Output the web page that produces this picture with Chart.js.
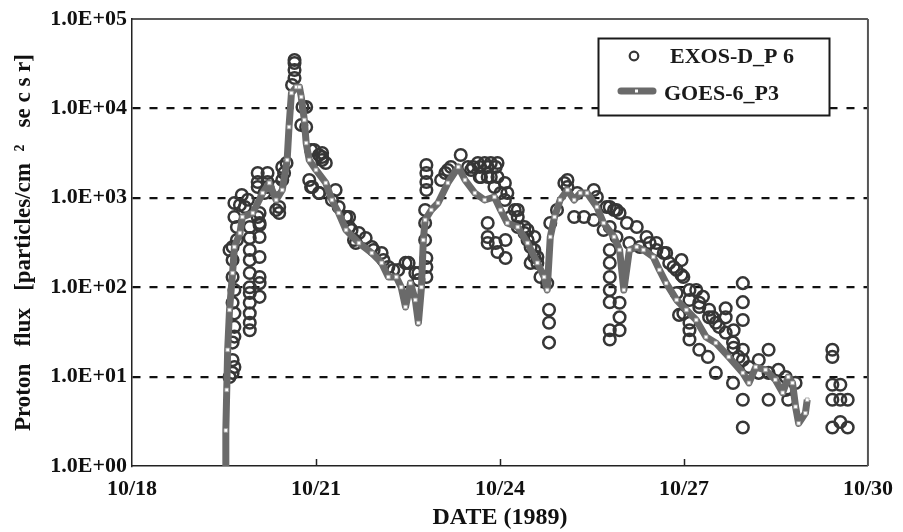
<!DOCTYPE html>
<html>
<head>
<meta charset="utf-8">
<script src="https://cdn.jsdelivr.net/npm/chart.js@4.4.0/dist/chart.umd.min.js"></script>
<style>
html,body{margin:0;padding:0;background:#fff;}
#wrap{width:903px;height:532px;}
</style>
</head>
<body>
<div id="wrap"><canvas id="c" width="903" height="532"></canvas></div>
<script>
// ---- tick labels ----
const xTickDays = [18, 21, 24, 27, 30];
const xTickLabels = ['10/18', '10/21', '10/24', '10/27', '10/30'];
const yTickValues = [1, 10, 100, 1000, 10000, 100000];
const yTickLabels = ['1.0E+00', '1.0E+01', '1.0E+02', '1.0E+03', '1.0E+04', '1.0E+05'];

// ---- GOES-6 P3 (day of October 1989, flux) ----
const goesDays = [19.53,19.53,19.545,19.56,19.59,19.64,19.67,19.76,19.80,19.97,
  20.13,20.24,20.35,20.45,20.53,20.56,20.60,20.68,20.73,20.76,
  20.81,20.84,20.89,21.00,21.16,21.26,21.37,21.49,21.70,21.91,
  22.07,22.18,22.31,22.39,22.46,22.54,22.62,22.67,22.72,22.75,
  22.78,22.88,22.99,23.15,23.32,23.43,23.59,23.75,23.91,24.01,
  24.12,24.29,24.45,24.61,24.72,24.77,24.82,24.89,24.98,25.10,
  25.21,25.31,25.42,25.58,25.69,25.86,25.95,26.02,26.11,26.23,
  26.34,26.50,26.60,26.71,26.88,27.04,27.20,27.36,27.52,27.73,
  27.96,28.06,28.17,28.33,28.49,28.61,28.70,28.77,28.82,28.87,
  28.98,29.01];
const goesFlux = [0.8,2.5,7.1,19.9,55.6,144,282,404,610,676,
  1132,1466,945,1222,2647,6190,14860,17340,17340,13420,
  7420,4100,2647,2047,1466,945,676,436,312,241,
  187,130,130,100,60,111,72,39.8,100,337,
  565,731,875,1466,2212,1582,1132,945,1021,731,
  522,471,312,187,130,93,365,610,945,1222,
  945,1132,1132,789,522,365,261,93,261,282,
  261,218,156,111,72,55.6,43,27.7,23.8,16.6,
  11.0,8.5,12.8,11.9,9.2,6.6,9.9,8.5,4.6,3.0,
  3.9,5.5];

// ---- EXOS-D P6 (day of October 1989, flux) ----
const exosDays = [
  19.64,19.64,19.64,19.59,19.64,19.67,19.67,19.67,19.64,19.64,19.67,19.64,19.59,19.67,
  19.92,19.92,19.92,19.92,19.92,19.92,19.92,19.92,19.92,19.92,
  20.08,20.08,20.08,20.08,20.08,20.08,20.08,
  19.79,19.76,20.05,20.21,20.05,20.21,20.45,20.52,20.35,20.40,19.89,
  20.65,20.65,20.65,20.65,20.61,
  20.78,20.76,20.97,21.05,21.10,20.92,21.05,21.16,21.32,21.49,21.54,21.58,21.65,21.81,21.94,22.10,22.26,22.51,22.67,
  22.80,22.80,22.80,22.80,22.78,22.78,22.80,22.80,22.80,22.78,
  23.11,23.36,23.53,23.56,23.67,23.80,23.93,23.67,23.80,23.96,24.08,24.12,24.24,23.80,23.80,23.80,23.93,23.96,24.09,24.09,24.29,24.45,24.45,24.56,24.61,24.50,24.50,24.77,
  24.80,24.80,24.80,
  25.10,25.10,25.26,25.53,25.53,25.79,25.86,25.95,25.79,26.07,26.23,26.39,26.55,26.67,26.71,26.83,26.96,26.96,
  25.79,25.79,25.79,25.79,25.79,25.79,25.79,
  25.95,25.95,25.95,
  27.09,27.25,27.41,26.92,26.99,27.09,27.09,27.09,27.25,27.39,27.52,27.68,27.68,27.81,27.81,27.52,27.80,27.96,27.96,27.96,27.96,27.96,27.96,27.96,28.22,28.38,28.38,28.66,28.70,28.82,
  29.42,29.42,29.42,29.55,29.42,29.55,29.67,29.42,29.55,29.67,
  19.67,19.67,19.71,19.71,19.84,19.92,20.05,20.08,20.05,20.21,20.16,20.35,20.40,20.48,20.45,
  20.84,20.84,20.92,20.97,21.10,21.10,20.89,20.94,21.05,21.26,21.37,21.49,21.54,21.62,
  21.70,21.91,22.07,22.18,22.34,22.46,22.62,22.67,
  23.04,23.15,23.20,23.48,23.64,23.75,23.85,23.96,23.69,23.85,23.91,24.01,24.08,24.17,24.29,24.40,24.56,24.61,
  24.29,24.40,24.56,24.66,24.82,24.93,25.05,25.21,25.37,25.58,25.74,25.90,25.69,25.90,26.11,26.28,26.44,26.55,26.76,26.88,26.99,27.20,27.31,27.47,
  26.88,27.09,27.25,27.41,27.57,27.68,27.80,27.89,28.06,28.22,28.38,28.54,28.66];
const exosFlux = [
  282,201,130,261,67,51,36,28,24,15.3,12.8,11.0,9.9,93,
  355,261,201,144,100,86,67,51,40,33,
  676,497,365,218,130,111,78,
  1075,830,1893,1893,1503,1503,2212,2450,731,676,950,
  34800,32200,26900,21900,18300,
  10370,6520,3425,3010,2860,1321,1132,2450,1222,610,610,436,312,355,261,201,156,187,144,
  2330,1893,1503,1222,731,522,212,168,130,337,
  1893,3010,2047,2212,2212,2212,2212,1709,1709,1709,1466,1132,731,522,365,312,312,248,212,337,610,436,337,365,218,187,282,111,
  56,40,24,
  1582,1321,1132,1222,565,789,731,676,471,522,471,365,312,241,241,168,201,137,
  261,187,130,93,68,33,26,
  67,46,33,
  93,67,56,49,51,40,33,26,20,16.6,40,58,46,33,21,11.0,8.5,111,68,43,20,15.3,5.5,2.7,11.0,20,5.5,7.1,5.5,8.5,
  20,16.6,8.1,8.1,5.5,5.5,5.5,2.7,3.1,2.7,
  875,610,471,337,789,471,610,522,1321,1321,1132,1321,789,1893,1582,
  10370,6190,3425,2647,3170,2647,1582,1321,1132,945,789,610,471,337,
  404,282,241,168,156,187,144,120,
  1582,2047,2212,2212,2450,2450,2450,2450,1709,1709,1321,1132,945,610,471,404,218,187,
  731,471,261,130,522,731,1466,610,610,1021,789,731,436,365,312,282,312,261,187,156,130,93,78,46,
  86,72,60,46,36,31,24,16.6,12.8,15.3,11.0,11.9,9.9];

const seriesLabels = ['GOES-6_P3', 'EXOS-D_P 6'];

const FONT = "'Liberation Serif', 'DejaVu Serif', serif";
const goesColor = '#6a6a6a';
const exosColor = '#363636';

const goesData = goesDays.map((d, i) => ({x: d, y: goesFlux[i]}));
const exosData = exosDays.map((d, i) => ({x: d, y: exosFlux[i]}));

const framePlugin = {
  id: 'frame',
  beforeDatasetsDraw(chart) {
    const {ctx, chartArea: a} = chart;
    const xs = chart.scales.x;
    ctx.save();
    ctx.strokeStyle = '#222';
    ctx.lineWidth = 1.5;
    xs.ticks.forEach(t => {
      if (t.value <= xs.min || t.value >= xs.max) return;
      const px = Math.round(xs.getPixelForValue(t.value)) + 0.5;
      ctx.beginPath();
      ctx.moveTo(px, a.bottom);
      ctx.lineTo(px, a.bottom - 7);
      ctx.stroke();
    });
    ctx.restore();
  },
  afterDraw(chart) {
    const {ctx, chartArea: a} = chart;
    ctx.save();
    ctx.strokeStyle = '#222';
    ctx.lineWidth = 1.5;
    ctx.beginPath();
    ctx.moveTo(a.left, a.top);
    ctx.lineTo(a.right, a.top);
    ctx.stroke();
    ctx.strokeStyle = '#555';
    ctx.lineWidth = 2;
    ctx.beginPath();
    ctx.moveTo(a.right, a.top);
    ctx.lineTo(a.right, a.bottom);
    ctx.stroke();

    // legend box
    const bx = 598.5, by = 38.5, bw = 231, bh = 77;
    ctx.fillStyle = '#fff';
    ctx.fillRect(bx, by, bw, bh);
    ctx.strokeStyle = '#1a1a1a';
    ctx.lineWidth = 2;
    ctx.strokeRect(bx, by, bw, bh);

    const ds = chart.data.datasets;
    ctx.font = 'bold 22px ' + FONT;
    ctx.fillStyle = '#1a1a1a';
    ctx.textBaseline = 'middle';
    ctx.textAlign = 'left';
    // EXOS item
    ctx.strokeStyle = exosColor;
    ctx.lineWidth = 2.2;
    ctx.beginPath();
    ctx.arc(634, 56, 4.3, 0, Math.PI * 2);
    ctx.stroke();
    ctx.fillText(ds[1].label, 670, 57);
    // GOES item
    ctx.strokeStyle = goesColor;
    ctx.lineWidth = 7;
    ctx.lineCap = 'round';
    ctx.beginPath();
    ctx.moveTo(621, 91);
    ctx.lineTo(653, 91);
    ctx.stroke();
    ctx.fillStyle = '#fff';
    ctx.fillRect(635, 89.5, 3, 3);
    ctx.fillStyle = '#1a1a1a';
    ctx.fillText(ds[0].label, 664, 94);
    ctx.restore();
  }
};

new Chart(document.getElementById('c'), {
  type: 'scatter',
  data: {
    datasets: [
      {
        label: seriesLabels[0],
        data: goesData,
        showLine: true,
        borderColor: goesColor,
        backgroundColor: goesColor,
        borderWidth: 7,
        borderJoinStyle: 'round',
        tension: 0,
        pointStyle: 'rect',
        pointRadius: 2.6,
        pointBackgroundColor: '#ffffff',
        pointBorderColor: '#9a9a9a',
        pointBorderWidth: 0.8
      },
      {
        label: seriesLabels[1],
        data: exosData,
        showLine: false,
        pointStyle: 'circle',
        pointRadius: 5.8,
        pointBorderWidth: 2.5,
        pointBorderColor: exosColor,
        pointBackgroundColor: 'rgba(0,0,0,0)',
        borderColor: exosColor,
        backgroundColor: 'rgba(0,0,0,0)'
      }
    ]
  },
  options: {
    responsive: false,
    animation: false,
    devicePixelRatio: 1,
    layout: {padding: {left: 0, right: 30, top: 19, bottom: 0}},
    plugins: {
      legend: {display: false},
      tooltip: {enabled: false}
    },
    scales: {
      x: {
        type: 'linear',
        min: 18,
        max: 30,
        afterBuildTicks: s => { s.ticks = xTickDays.map(v => ({value: v})); },
        afterFit: s => { s.height = 66; },
        grid: {drawOnChartArea: false, drawTicks: false},
        border: {display: true, color: '#222', width: 1.5},
        ticks: {
          callback: v => xTickLabels[xTickDays.indexOf(v)],
          font: {family: FONT, size: 22, weight: 'bold'},
          color: '#111',
          padding: 10,
          maxRotation: 0,
          autoSkip: false
        },
        title: {
          display: true,
          text: 'DATE (1989)',
          font: {family: FONT, size: 24, weight: 'bold'},
          color: '#111',
          padding: {top: 0, bottom: 0}
        }
      },
      y: {
        type: 'logarithmic',
        min: 1,
        max: 100000,
        afterBuildTicks: s => { s.ticks = yTickValues.map(v => ({value: v})); },
        afterFit: s => { s.width = 132; },
        grid: {
          drawTicks: false,
          lineWidth: 2.2,
          color: ctx => (ctx.tick && (ctx.tick.value === 1 || ctx.tick.value === 100000)) ? 'rgba(0,0,0,0)' : '#111'
        },
        border: {display: true, color: '#222', width: 1.5, dash: [8, 9]},
        ticks: {
          callback: v => { const i = yTickValues.indexOf(v); return i >= 0 ? yTickLabels[i] : ''; },
          font: {family: FONT, size: 22, weight: 'bold'},
          color: '#111',
          padding: 5,
          autoSkip: false
        },
        title: {
          display: true,
          text: 'Proton   flux   [particles/cm  ²   se c s r]',
          font: {family: FONT, size: 23, weight: 'bold'},
          color: '#111',
          padding: {top: 10, bottom: 0}
        }
      }
    }
  },
  plugins: [framePlugin]
});
</script>
</body>
</html>
